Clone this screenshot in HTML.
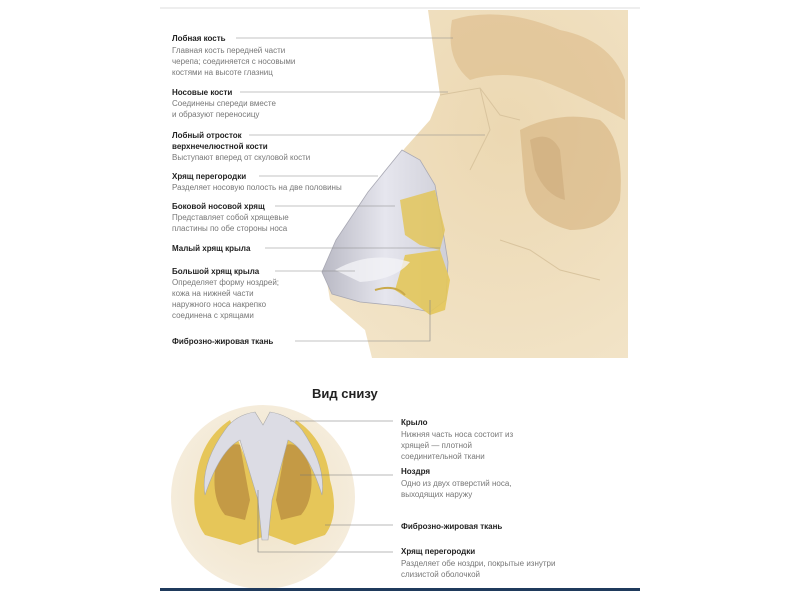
<!DOCTYPE html>
<html><head><meta charset="utf-8"><style>
html,body{margin:0;padding:0;background:#fff;}
svg{display:block}
text{font-family:"Liberation Sans",sans-serif;font-size:8px;}
.b{font-weight:bold;fill:#222;}
.d{fill:#777;}
</style></head><body>
<svg width="800" height="600" viewBox="0 0 800 600">
<defs>
<radialGradient id="bg" cx="0.6" cy="0.35" r="0.8"><stop offset="0" stop-color="#ecd8b2"/><stop offset="1" stop-color="#f2e4c8"/></radialGradient>
<radialGradient id="circ" cx="0.5" cy="0.5" r="0.5"><stop offset="0" stop-color="#efe2c6"/><stop offset="1" stop-color="#f5ecdb"/></radialGradient>
<linearGradient id="nose" x1="0" y1="0" x2="1" y2="0"><stop offset="0" stop-color="#b9b9c4"/><stop offset="0.5" stop-color="#e6e6ee"/><stop offset="1" stop-color="#cfcfd8"/></linearGradient>
</defs>
<line x1="160" y1="8" x2="640" y2="8" stroke="#ddd" stroke-width="1"/>
<path d="M428,10 L628,10 L628,358 L372,358 L365,330 L330,300 L325,270 L345,230 L380,180 L405,148 L430,120 L440,95 L435,60 Z" fill="url(#bg)"/>
<path d="M452,20 Q500,5 560,30 Q610,40 625,80 L625,120 Q580,95 540,80 Q500,70 470,80 Q445,60 452,20Z" fill="#dcbb88" opacity="0.6"/>
<path d="M520,130 Q560,110 600,120 Q625,140 620,200 Q610,230 570,230 Q530,220 525,190 Z" fill="#d7b583" opacity="0.65"/>
<path d="M530,140 Q550,130 560,150 L565,200 Q545,195 535,170 Z" fill="#c9a676" opacity="0.5"/>
<path d="M440,95 L480,88 L500,115 L520,120 M480,88 L490,130 L470,170 M500,240 L530,250 L560,270 L600,280" stroke="#d9c49e" fill="none" stroke-width="1"/>
<path d="M402,150 L420,160 L435,185 L442,225 L448,262 L446,300 L430,312 L400,306 L360,302 L332,294 L322,272 L336,240 L368,192 Z" fill="url(#nose)" stroke="#a9a9b4" stroke-width="0.8"/>
<path d="M400,200 L435,190 L445,230 L440,250 L420,245 L405,235 Z" fill="#e3c65a" opacity="0.85"/>
<path d="M405,255 L440,250 L450,280 L445,310 L430,315 L410,300 L395,290 Z" fill="#e3c65a" opacity="0.9"/>
<path d="M335,270 Q370,250 410,262 Q395,280 360,282 Z" fill="#f2f2f6" opacity="0.8"/>
<path d="M375,290 Q395,284 405,295" stroke="#c9a94a" stroke-width="2" fill="none"/>
<g stroke="#888" stroke-width="0.6" fill="none">
<line x1="236" y1="38" x2="453" y2="38"/>
<line x1="240" y1="92" x2="448" y2="92"/>
<line x1="249" y1="135" x2="485" y2="135"/>
<line x1="259" y1="176" x2="378" y2="176"/>
<line x1="275" y1="206" x2="395" y2="206"/>
<line x1="265" y1="248" x2="440" y2="248"/>
<line x1="275" y1="271" x2="355" y2="271"/>
<polyline points="295,341 430,341 430,300"/>
</g>
<text x="172" y="41" class="b">Лобная кость</text>
<text x="172" y="53" class="d">Главная кость передней части</text>
<text x="172" y="64" class="d">черепа; соединяется с носовыми</text>
<text x="172" y="75" class="d">костями на высоте глазниц</text>
<text x="172" y="95" class="b">Носовые кости</text>
<text x="172" y="106" class="d">Соединены спереди вместе</text>
<text x="172" y="117" class="d">и образуют переносицу</text>
<text x="172" y="138" class="b">Лобный отросток</text>
<text x="172" y="149" class="b">верхнечелюстной кости</text>
<text x="172" y="160" class="d">Выступают вперед от скуловой кости</text>
<text x="172" y="179" class="b">Хрящ перегородки</text>
<text x="172" y="190" class="d">Разделяет носовую полость на две половины</text>
<text x="172" y="209" class="b">Боковой носовой хрящ</text>
<text x="172" y="220" class="d">Представляет собой хрящевые</text>
<text x="172" y="231" class="d">пластины по обе стороны носа</text>
<text x="172" y="251" class="b">Малый хрящ крыла</text>
<text x="172" y="274" class="b">Большой хрящ крыла</text>
<text x="172" y="285" class="d">Определяет форму ноздрей;</text>
<text x="172" y="296" class="d">кожа на нижней части</text>
<text x="172" y="307" class="d">наружного носа накрепко</text>
<text x="172" y="318" class="d">соединена с хрящами</text>
<text x="172" y="344" class="b">Фиброзно-жировая ткань</text>
<text x="312" y="398" class="b" style="font-size:13px">Вид снизу</text>
<circle cx="263" cy="497" r="92" fill="url(#circ)"/>
<path d="M196,480 Q200,440 230,420 L258,490 L268,535 L240,545 L205,535 Q190,515 196,480Z" fill="#e6c659"/>
<path d="M330,480 Q326,440 296,420 L268,490 L268,535 L295,545 L325,535 Q340,515 330,480Z" fill="#e6c659"/>
<path d="M215,470 Q225,440 240,445 L250,500 L245,520 L225,515 Q212,500 215,470Z" fill="#c49a45"/>
<path d="M311,470 Q301,440 286,445 L276,500 L281,520 L301,515 Q314,500 311,470Z" fill="#c49a45"/>
<path d="M255,412 Q235,415 225,430 Q200,465 205,495 Q220,450 240,440 L258,500 L262,540 L268,540 L272,500 L288,440 Q308,450 322,495 Q326,465 302,430 Q290,415 270,412 L263,425 Z" fill="#dcdce4" stroke="#aaa" stroke-width="0.6"/>
<g stroke="#777" stroke-width="0.6" fill="none">
<line x1="290" y1="421" x2="393" y2="421"/>
<line x1="300" y1="475" x2="393" y2="475"/>
<line x1="325" y1="525" x2="393" y2="525"/>
<polyline points="258,490 258,552 393,552"/>
</g>
<text x="401" y="425" class="b">Крыло</text>
<text x="401" y="437" class="d">Нижняя часть носа состоит из</text>
<text x="401" y="448" class="d">хрящей — плотной</text>
<text x="401" y="459" class="d">соединительной ткани</text>
<text x="401" y="474" class="b">Ноздря</text>
<text x="401" y="486" class="d">Одно из двух отверстий носа,</text>
<text x="401" y="497" class="d">выходящих наружу</text>
<text x="401" y="529" class="b">Фиброзно-жировая ткань</text>
<text x="401" y="554" class="b">Хрящ перегородки</text>
<text x="401" y="566" class="d">Разделяет обе ноздри, покрытые изнутри</text>
<text x="401" y="577" class="d">слизистой оболочкой</text>
<rect x="160" y="588" width="480" height="3" fill="#1f3a5c"/>
</svg>
</body></html>
